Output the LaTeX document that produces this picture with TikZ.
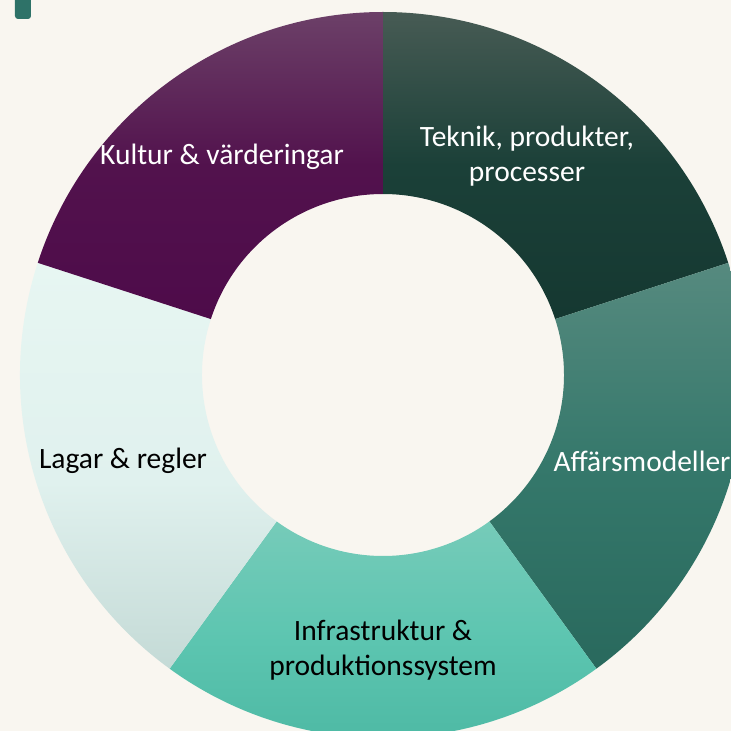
\documentclass[tikz,border=0pt]{standalone}
\usepackage{fontspec}
\setmainfont{Carlito}

\definecolor{paper}{HTML}{F9F6F0}
\definecolor{tabteal}{HTML}{2E7268}
\definecolor{tekTop}{HTML}{475B54}
\definecolor{tekMid}{HTML}{1B4038}
\definecolor{tekBot}{HTML}{153831}
\definecolor{affTop}{HTML}{568A7F}
\definecolor{affMid}{HTML}{35786B}
\definecolor{affBot}{HTML}{29695D}
\definecolor{infTop}{HTML}{76CBB9}
\definecolor{infMid}{HTML}{5CC5B0}
\definecolor{infBot}{HTML}{4BB7A2}
\definecolor{lagTop}{HTML}{E7F6F2}
\definecolor{lagMid}{HTML}{E0F1EE}
\definecolor{lagBot}{HTML}{C4DAD6}
\definecolor{kulTop}{HTML}{6C4068}
\definecolor{kulMid}{HTML}{52124D}
\definecolor{kulBot}{HTML}{4E0B4A}

% segment shadings, 25bp = bottom of the segment, 75bp = top
\pgfdeclareverticalshading{tekshade}{100bp}{color(0bp)=(tekBot); color(25bp)=(tekBot); color(50bp)=(tekMid); color(75bp)=(tekTop); color(100bp)=(tekTop)}
\pgfdeclareverticalshading{affshade}{100bp}{color(0bp)=(affBot); color(25bp)=(affBot); color(50bp)=(affMid); color(75bp)=(affTop); color(100bp)=(affTop)}
\pgfdeclareverticalshading{infshade}{100bp}{color(0bp)=(infBot); color(25bp)=(infBot); color(50bp)=(infMid); color(75bp)=(infTop); color(100bp)=(infTop)}
\pgfdeclareverticalshading{lagshade}{100bp}{color(0bp)=(lagBot); color(25bp)=(lagBot); color(48bp)=(lagMid); color(75bp)=(lagTop); color(100bp)=(lagTop)}
\pgfdeclareverticalshading{kulshade}{100bp}{color(0bp)=(kulBot); color(25bp)=(kulBot); color(50bp)=(kulMid); color(75bp)=(kulTop); color(100bp)=(kulTop)}

\begin{document}
\begin{tikzpicture}[x=1pt,y=1pt,
		seglabel/.style={align=center,font=\fontsize{29.5}{35}\selectfont,inner sep=0pt},
		lightlabel/.style={seglabel,text=white},
		darklabel/.style={seglabel,text=black}]
		\fill[paper] (-383,-356) rectangle (348,375);
		\useasboundingbox (-383,-356) rectangle (348,375);
		\clip (-383,-356) rectangle (348,375);

		\fill[tabteal,rounded corners=3pt] (-368,356) rectangle (-352,385);

		\shade[shading=tekshade] (90:363) arc[start angle=90,end angle=18,radius=363] -- (18:181) arc[start angle=18,end angle=90,radius=181] -- cycle;
		\shade[shading=affshade] (18:363) arc[start angle=18,end angle=-54,radius=363] -- (-54:181) arc[start angle=-54,end angle=18,radius=181] -- cycle;
		\shade[shading=infshade] (-54:363) arc[start angle=-54,end angle=-126,radius=363] -- (-126:181) arc[start angle=-126,end angle=-54,radius=181] -- cycle;
		\shade[shading=lagshade] (-126:363) arc[start angle=-126,end angle=-198,radius=363] -- (-198:181) arc[start angle=-198,end angle=-126,radius=181] -- cycle;
		\shade[shading=kulshade] (162:363) arc[start angle=162,end angle=90,radius=363] -- (90:181) arc[start angle=90,end angle=162,radius=181] -- cycle;

		\node[lightlabel] (teknik) at (144,219) {Teknik, produkter,\\processer};
		\node[lightlabel] (affar) at (259,-86) {Affärsmodeller};
		\node[darklabel] (infra) at (0,-275) {Infrastruktur \&\\produktionssystem};
		\node[darklabel] (lagar) at (-260,-86) {Lagar \& regler};
		\node[lightlabel] (kultur) at (-161,218) {Kultur \& värderingar};
	\end{tikzpicture}
\end{document}
